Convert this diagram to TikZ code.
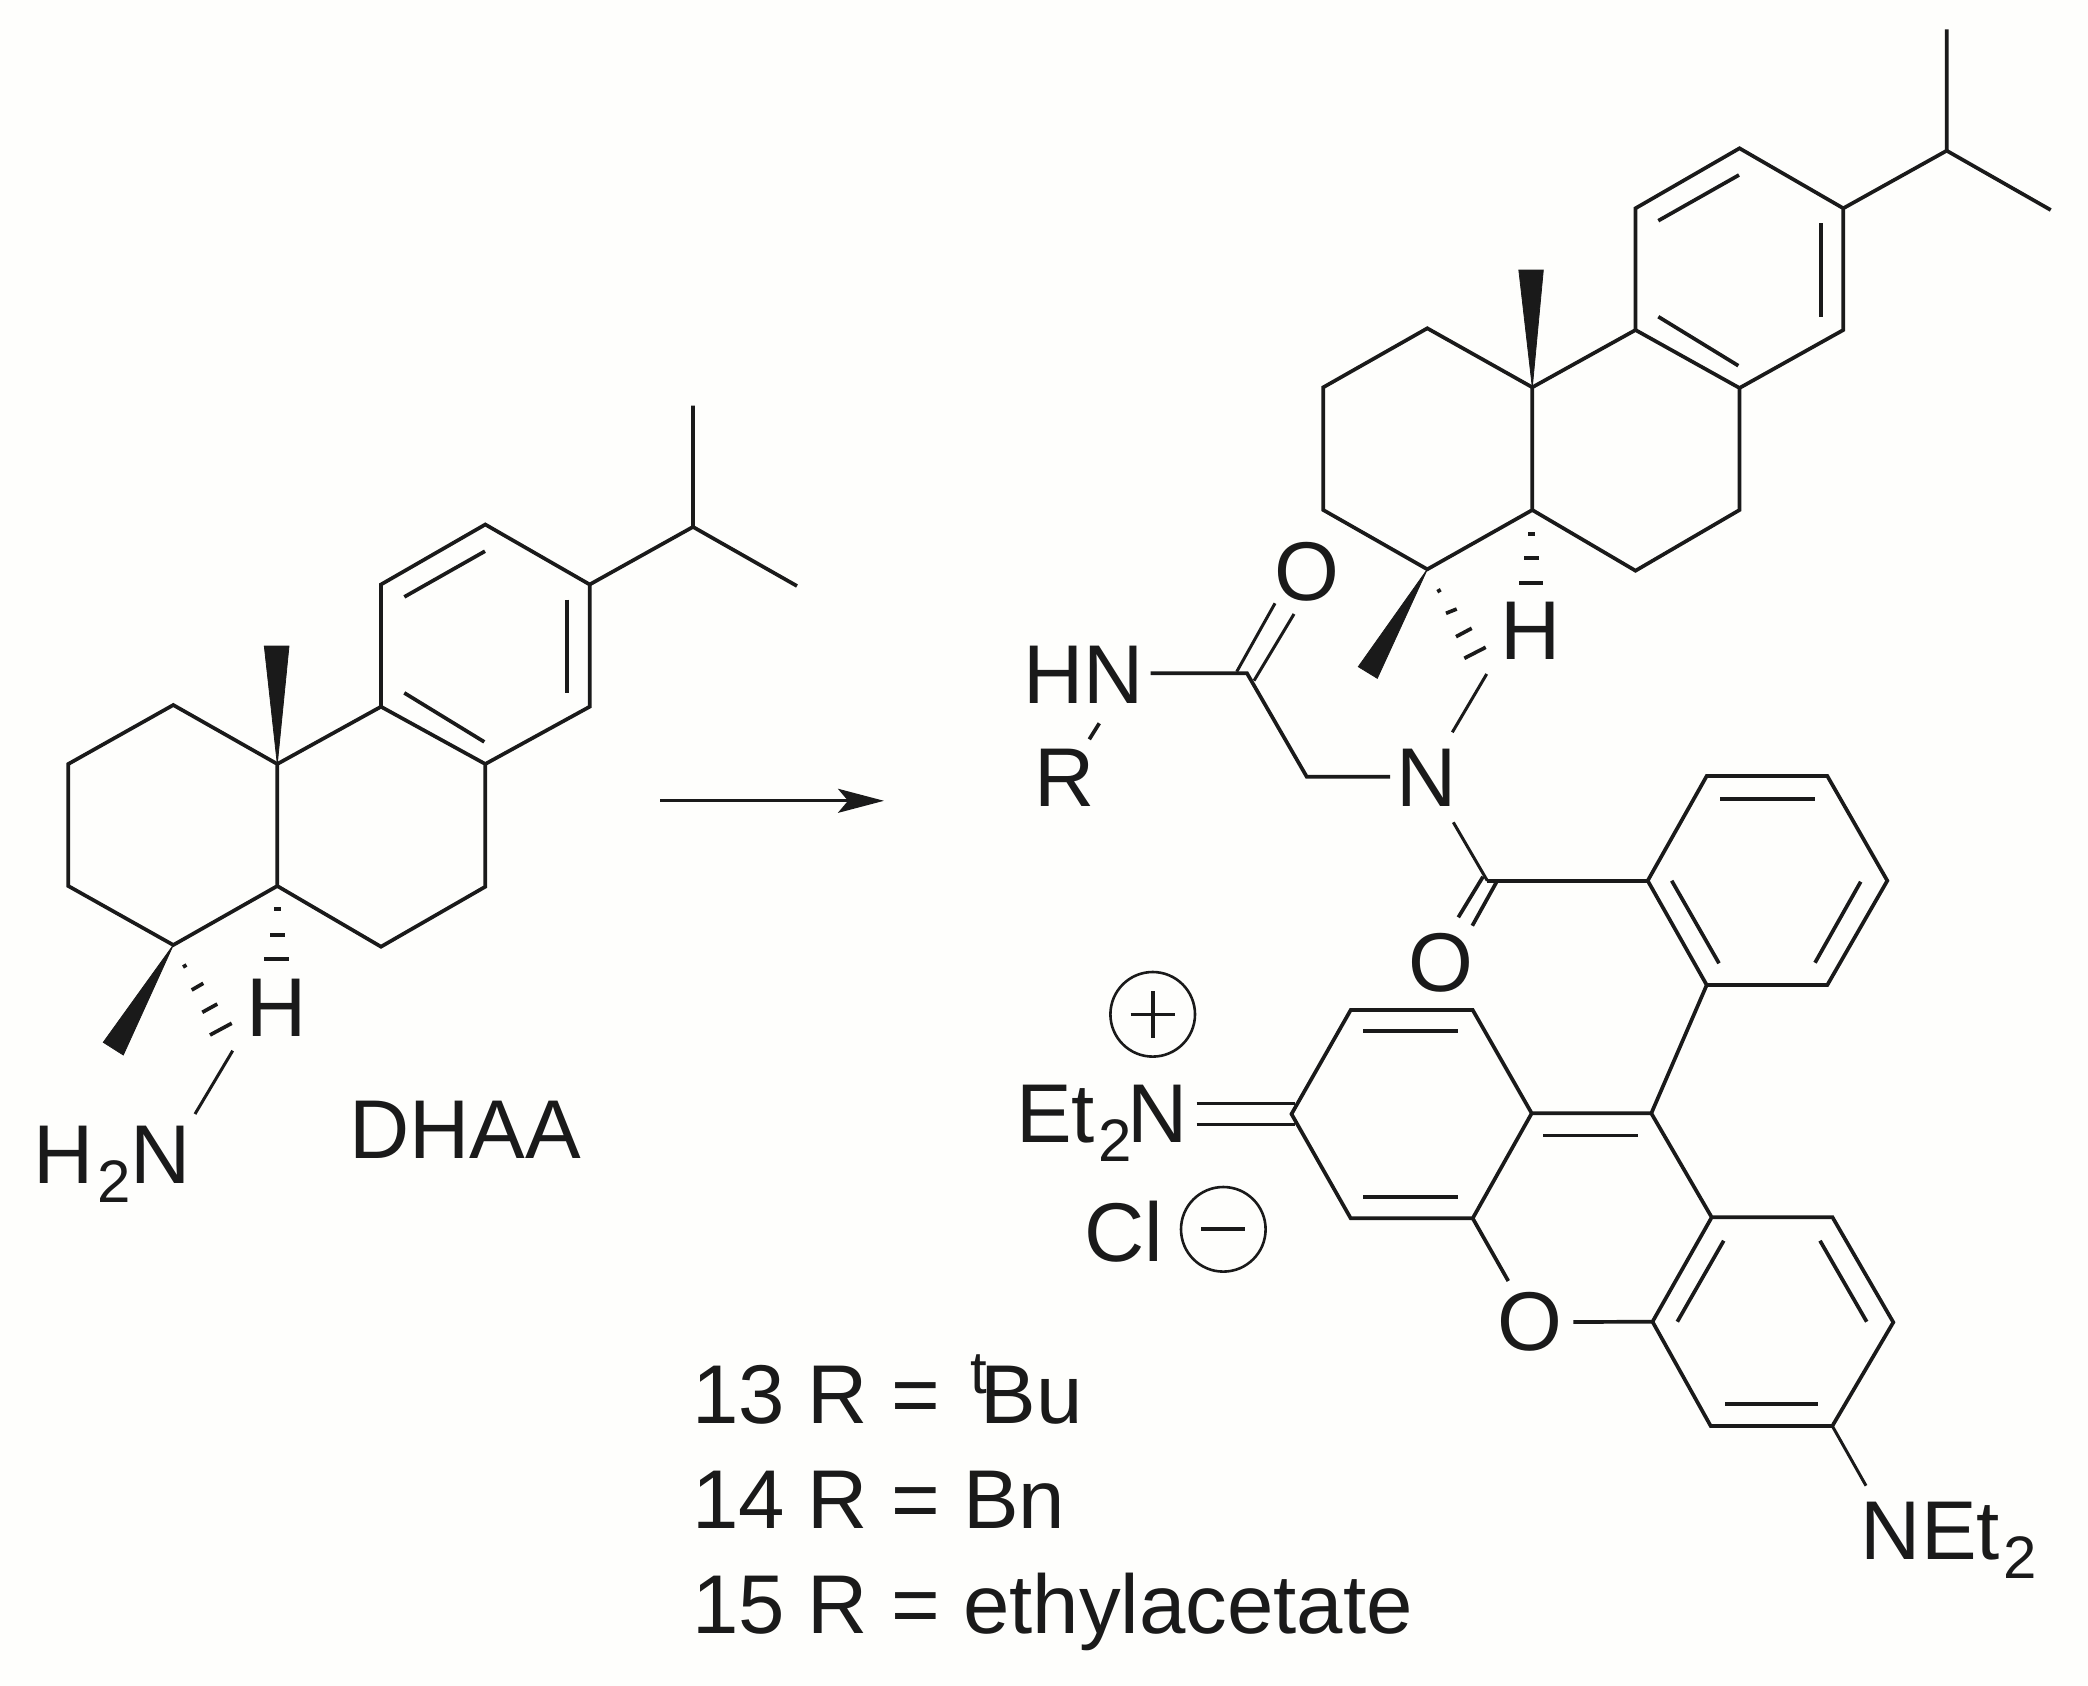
\documentclass[tikz,border=0pt]{standalone}
\usepackage{fontspec}
\setmainfont{Liberation Sans}
\usetikzlibrary{arrows.meta}
\definecolor{ink}{HTML}{1A1A1A}
\definecolor{paper}{HTML}{FEFEFC}
\newcommand{\subs}[1]{\kern2pt\raisebox{-9.5pt}{\fontsize{30}{32}\selectfont #1}}
\newcommand{\sups}[1]{\raisebox{15pt}{\fontsize{30}{32}\selectfont #1}}
\tikzset{
  bond/.style={draw=ink,line width=1.85pt,line join=miter},
  thinbond/.style={draw=ink,line width=1.5pt},
  wedge/.style={fill=ink,draw=ink,line width=0.4pt},
  atom/.style={inner sep=0pt,outer sep=0pt,text=ink,anchor=base west,font=\fontsize{41.7}{50}\selectfont},
  charge/.style={draw=ink,line width=1.3pt,circle,minimum size=42.3pt,inner sep=0pt,outer sep=0pt},
}
\begin{document}
\begin{tikzpicture}[x=0.5pt,y=-0.5pt]
  \useasboundingbox[fill=paper] (0,0) rectangle (2088,1686);
  % DHAA
  \coordinate (l_1) at (277.3,764);
  \coordinate (l_2) at (173.3,705);
  \coordinate (l_3) at (68.3,764);
  \coordinate (l_4) at (68.3,886);
  \coordinate (l_5) at (173.3,945);
  \coordinate (l_6) at (277.3,886);
  \coordinate (l_7) at (381,946.7);
  \coordinate (l_8) at (485.3,886.7);
  \coordinate (l_9) at (485.3,764);
  \coordinate (l_10) at (381,706.7);
  \coordinate (l_11) at (381,584.5);
  \coordinate (l_12) at (485.3,524.5);
  \coordinate (l_13) at (589.7,584.5);
  \coordinate (l_14) at (589.7,706.7);
  \coordinate (l_15) at (693,526.9);
  \coordinate (l_16) at (693,405.5);
  \coordinate (l_17) at (797,586);
  \coordinate (l_18) at (232.7,1050.7);
  \coordinate (l_19) at (195,1114);
  \node[atom] (H_l) at (246.8,1036) {H};
  \node[atom] (NH_l) at (33.6,1183) {H\subs{2}\kern-0.5pt N};
  \node[atom] (name_l) at (349.5,1158) {DHAA};
  \draw[bond] (l_1) -- (l_2) -- (l_3) -- (l_4) -- (l_5) -- (l_6) -- cycle;
  \draw[bond] (l_6) -- (l_7) -- (l_8) -- (l_9) -- (l_10) -- (l_1);
  \draw[bond] (l_10) -- (l_11) -- (l_12) -- (l_13) -- (l_14) -- (l_9);
  \draw[bond] (l_13) -- (l_15) -- (l_16);
  \draw[bond] (l_15) -- (l_17);
  \draw[bond] (404.3,596.9) -- (485,551.2);
  \draw[bond] (567.1,599.5) -- (567.1,692.9);
  \draw[bond] (404.3,692.9) -- (484.3,741.9);
  \draw[thinbond] (l_18) -- (l_19);
  \fill[wedge] (l_1) -- (264.3,646) -- (289,646) -- cycle;
  \fill[wedge] (l_5) -- (103.3,1042.3) -- (123.3,1055) -- cycle;
  \draw[bond] (274,908.7) -- (280.7,908.7);
  \draw[bond] (270,935) -- (285,935);
  \draw[bond] (264.3,959.3) -- (289,959.3);
  \draw[bond] (183,967) -- (186.5,965);
  \draw[bond] (191.7,990) -- (203.3,983.3);
  \draw[bond] (202.3,1012.3) -- (217.3,1004);
  \draw[bond] (210,1035) -- (231.7,1023.3);
  % arrow
  \coordinate (arr_a) at (660,800.8);
  \coordinate (arr_b) at (884,800.8);
  \draw[thinbond,-{Stealth[length=23pt,width=12pt,inset=5pt]}] (arr_a) -- (arr_b);
  % tricycle
  \coordinate (r_1) at (1532.3,387.3);
  \coordinate (r_2) at (1427.3,328.3);
  \coordinate (r_3) at (1323.3,387.3);
  \coordinate (r_4) at (1323.3,510);
  \coordinate (r_5) at (1427.3,569.3);
  \coordinate (r_6) at (1532.3,510);
  \coordinate (r_7) at (1635.5,570.7);
  \coordinate (r_8) at (1739.5,510);
  \coordinate (r_9) at (1739.5,388);
  \coordinate (r_10) at (1635.5,330);
  \coordinate (r_11) at (1635.5,208.3);
  \coordinate (r_12) at (1739.5,148.3);
  \coordinate (r_13) at (1843.3,208.3);
  \coordinate (r_14) at (1843.3,330);
  \coordinate (r_15) at (1946.7,150.7);
  \coordinate (r_16) at (1946.7,29.3);
  \coordinate (r_17) at (2050.7,210);
  \draw[bond] (r_1) -- (r_2) -- (r_3) -- (r_4) -- (r_5) -- (r_6) -- cycle;
  \draw[bond] (r_6) -- (r_7) -- (r_8) -- (r_9) -- (r_10) -- (r_1);
  \draw[bond] (r_10) -- (r_11) -- (r_12) -- (r_13) -- (r_14) -- (r_9);
  \draw[bond] (r_13) -- (r_15) -- (r_16);
  \draw[bond] (r_15) -- (r_17);
  \draw[bond] (1658.3,220.7) -- (1739,175);
  \draw[bond] (1820.7,223.3) -- (1820.7,316.7);
  \draw[bond] (1658.3,316.7) -- (1738.3,365.7);
  \fill[wedge] (r_1) -- (1518.8,270) -- (1543.3,270) -- cycle;
  \fill[wedge] (r_5) -- (1358.3,666.7) -- (1377.3,678.3) -- cycle;
  \draw[bond] (1528.3,534) -- (1535,534);
  \draw[bond] (1524.3,558.3) -- (1539.3,558.3);
  \draw[bond] (1519,582.7) -- (1543.3,582.7);
  \draw[bond] (1437.3,591.7) -- (1440.7,589.7);
  \draw[bond] (1446,613.3) -- (1456.7,609);
  \draw[bond] (1456,636.7) -- (1471.7,628.3);
  \draw[bond] (1464.3,658.3) -- (1485.7,647.3);
  % linker
  \node[atom] (H_r) at (1500.8,659) {H};
  \node[atom] (O_a) at (1274,600) {O};
  \node[atom] (HN_r) at (1023.5,703.3) {HN};
  \node[atom] (R_r) at (1034,806.7) {R};
  \node[atom] (N_r) at (1396.8,806.7) {N};
  \node[atom] (O_b) at (1408.7,991) {O};
  \coordinate (c_1) at (1486.7,674);
  \coordinate (c_2) at (1452.3,732.3);
  \coordinate (c_3) at (1390,776.7);
  \coordinate (c_4) at (1306.7,776.7);
  \coordinate (c_5) at (1247,673.3);
  \coordinate (c_6) at (1150.7,673.3);
  \coordinate (c_7) at (1099.3,723.3);
  \coordinate (c_8) at (1089.3,739.3);
  \coordinate (c_9) at (1453.3,822.3);
  \coordinate (c_10) at (1487.3,880.7);
  \draw[thinbond] (c_1) -- (c_2);
  \draw[bond] (c_3) -- (c_4) -- (c_5) -- (c_6);
  \draw[bond] (c_7) -- (c_8);
  \draw[thinbond] (c_9) -- (c_10);
  \draw[thinbond] (1236.7,671.7) -- (1275,603.3);
  \draw[thinbond] (1254,680.7) -- (1294,614);
  \draw[bond] (1483,876.7) -- (1458.3,917.3);
  \draw[bond] (1496.7,881.7) -- (1472.3,925.7);
  % benzoyl ring
  \coordinate (b_1) at (1647.7,880.7);
  \coordinate (b_2) at (1706.7,776);
  \coordinate (b_3) at (1827.3,776);
  \coordinate (b_4) at (1887.3,880.7);
  \coordinate (b_5) at (1827.3,985);
  \coordinate (b_6) at (1706.7,985);
  \draw[bond] (b_1) -- (b_2) -- (b_3) -- (b_4) -- (b_5) -- (b_6) -- cycle;
  \draw[bond] (c_10) -- (b_1);
  \draw[bond] (1720,798.7) -- (1815,798.7);
  \draw[bond] (1671.7,880.7) -- (1719,963.3);
  \draw[bond] (1860.7,881.7) -- (1815,962.7);
  % xanthene
  \coordinate (x_1) at (1651.3,1113.3);
  \coordinate (x_2) at (1531.7,1113.3);
  \coordinate (x_3) at (1472.7,1010);
  \coordinate (x_4) at (1350.7,1010);
  \coordinate (x_5) at (1291.5,1114);
  \coordinate (x_6) at (1350.7,1218.3);
  \coordinate (x_7) at (1472.7,1218.3);
  \coordinate (x_8) at (1711.7,1217.3);
  \coordinate (x_9) at (1832.5,1217.3);
  \coordinate (x_10) at (1893.3,1322.3);
  \coordinate (x_11) at (1832.3,1426);
  \coordinate (x_12) at (1710.7,1426);
  \coordinate (x_13) at (1652.5,1321.7);
  \coordinate (x_14) at (1508.3,1281);
  \coordinate (x_15) at (1573.3,1322);
  \coordinate (x_16) at (1866,1485.7);
  \coordinate (x_17) at (1196.7,1103.3);
  \coordinate (x_18) at (1295,1103.3);
  \coordinate (x_19) at (1196.7,1124.3);
  \coordinate (x_20) at (1295,1124.3);
  \draw[bond] (b_6) -- (x_1) -- (x_2) -- (x_3) -- (x_4) -- (x_5) -- (x_6) -- (x_7) -- (x_2);
  \draw[bond] (x_1) -- (x_8) -- (x_9) -- (x_10) -- (x_11) -- (x_12) -- (x_13) -- (x_8);
  \draw[bond] (x_7) -- (x_14);
  \draw[bond] (x_15) -- (x_13);
  \draw[thinbond] (x_11) -- (x_16);
  \draw[thinbond] (x_17) -- (x_18);
  \draw[thinbond] (x_19) -- (x_20);
  \draw[bond] (1363.3,1030.7) -- (1458.3,1030.7);
  \draw[bond] (1363.3,1196.7) -- (1458.3,1196.7);
  \draw[thinbond] (1543.3,1135.7) -- (1638.3,1135.7);
  \draw[bond] (1723.7,1240.7) -- (1677.3,1321.7);
  \draw[bond] (1820,1240.7) -- (1866.7,1321.7);
  \draw[bond] (1725,1404.3) -- (1818.3,1404.3);
  \node[atom] (O_c) at (1497.7,1350.5) {O};
  \node[atom] (NEt_a) at (1860.8,1559.3) {NEt\subs{2}};
  \node[atom] (NEt_b) at (1016,1142.7) {Et\subs{2}\kern-2.4pt N};
  \node[atom] (Cl) at (1084,1261.7) {Cl};
  \node[charge] (plus) at (1152.7,1014.3) {};
  \node[charge] (minus) at (1223.3,1229.3) {};
  \draw[thinbond] (plus.center) ++(-22,0) -- ++(44,0);
  \draw[bond] (plus.center) ++(0,-23.3) -- ++(0,46.6);
  \draw[bond] (minus.center) ++(-22,0) -- ++(44,0);
  % compounds
  \node[atom] (cmp_a) at (692,1423.3) {13 R = \kern3.5pt\sups{t}\kern-3.1pt Bu};
  \node[atom] (cmp_b) at (692,1528) {14 R = Bn};
  \node[atom] (cmp_c) at (692,1633.3) {15 R = ethylacetate};
\end{tikzpicture}
\end{document}
